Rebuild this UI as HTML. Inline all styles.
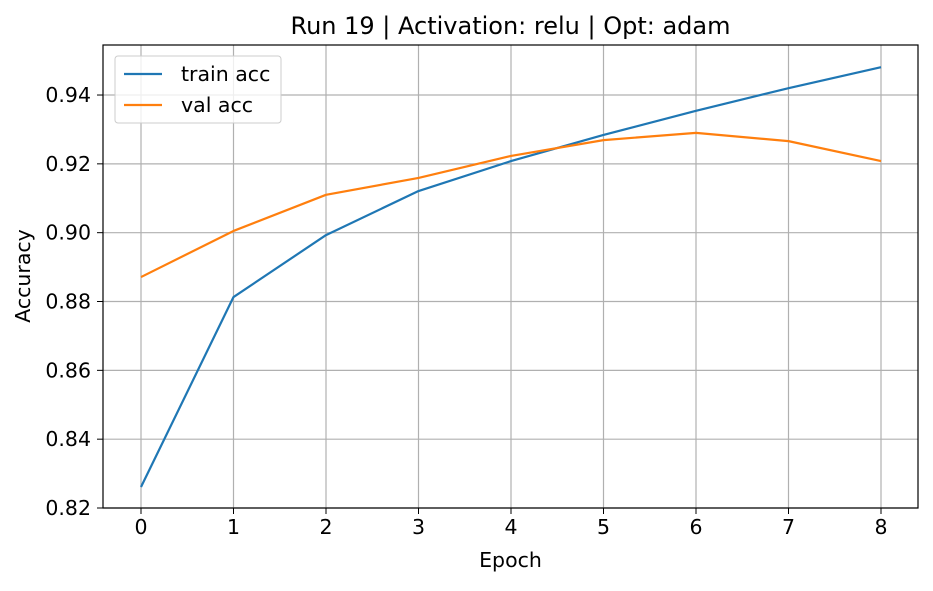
<!DOCTYPE html>
<html><head><meta charset="utf-8"><style>
body{margin:0;background:#fff;}
svg text{font-family:"DejaVu Sans","Liberation Sans",sans-serif;fill:#000;}
</style></head><body>
<svg id="chart" width="933" height="586" xmlns="http://www.w3.org/2000/svg">
<rect width="933" height="586" fill="#fff"/>
<text x="510.5" y="34" font-size="24" text-anchor="middle">Run 19 | Activation: relu | Opt: adam</text>
<g id="grid"></g><g id="ticks"></g><g id="lines"></g>
<rect x="103" y="45" width="815" height="463" fill="none" stroke="#000" stroke-width="1.2"/>
<text x="510.5" y="567" font-size="20.5" text-anchor="middle">Epoch</text>
<text x="0" y="0" font-size="20.5" text-anchor="middle" transform="translate(30,276) rotate(-90)">Accuracy</text>
<g>
<rect x="115" y="56" width="166" height="67" rx="3" fill="#fff" fill-opacity="0.8" stroke="#ccc"/>
<line x1="124" y1="74" x2="162" y2="74" stroke="#1f77b4" stroke-width="2.2"/>
<text x="181" y="81" font-size="20.5">train acc</text>
<line x1="124" y1="105" x2="162" y2="105" stroke="#ff7f0e" stroke-width="2.2"/>
<text x="181" y="112" font-size="20.5">val acc</text>
</g>
</svg>
<script>
const epochs=[0,1,2,3,4,5,6,7,8];
const trainAcc=[0.8261,0.8813,0.8993,0.9121,0.9208,0.9284,0.9354,0.9420,0.9481];
const valAcc=[0.8871,0.9005,0.9110,0.9159,0.9223,0.9269,0.9290,0.9266,0.9208];
const yTicks=[0.82,0.84,0.86,0.88,0.90,0.92,0.94];
const xs=e=>141+e*92.5;
const ys=v=>508-(v-0.82)/0.02*68.83;
const NS="http://www.w3.org/2000/svg";
const grid=document.getElementById('grid'),ticks=document.getElementById('ticks'),lines=document.getElementById('lines');
function mk(tag,attrs,parent){const el=document.createElementNS(NS,tag);for(const k in attrs)el.setAttribute(k,attrs[k]);parent.appendChild(el);return el;}
epochs.forEach(e=>{
 const g=mk('line',{x1:xs(e),x2:xs(e),y1:45,y2:508,stroke:'#b0b0b0','stroke-width':1.2},grid);
 
 
 mk('line',{x1:xs(e),x2:xs(e),y1:508,y2:514,stroke:'#000'},ticks);
 const t=mk('text',{x:xs(e),y:534,'font-size':20.5,'text-anchor':'middle'},ticks);
 t.textContent=e;
 
 
});
yTicks.forEach(v=>{
 const g=mk('line',{x1:103,x2:918,y1:ys(v),y2:ys(v),stroke:'#b0b0b0','stroke-width':1.2},grid);
 
 
 mk('line',{x1:97,x2:103,y1:ys(v),y2:ys(v),stroke:'#000'},ticks);
 const t=mk('text',{x:91,y:ys(v)+7,'font-size':20.5,'text-anchor':'end'},ticks);
 t.textContent=v.toFixed(2);
 
 
});
function series(vals,color,name){
 const p=mk('polyline',{points:vals.map((v,i)=>xs(epochs[i])+','+ys(v)).join(' '),fill:'none',stroke:color,'stroke-width':2.2,'stroke-linejoin':'round'},lines);
 
 
}
series(trainAcc,'#1f77b4','train-acc-line');
series(valAcc,'#ff7f0e','val-acc-line');
</script>
</body></html>
